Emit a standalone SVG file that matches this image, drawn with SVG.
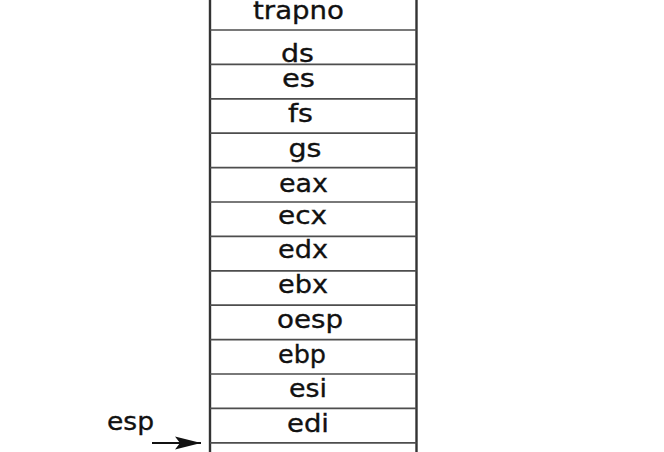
<svg xmlns="http://www.w3.org/2000/svg" width="664" height="452" viewBox="0 0 664 452">
  <style>
    .bg { fill: #ffffff; }
    .side { stroke: #333333; stroke-width: 2.4; fill: none; }
    .sep { stroke: #4d4d4d; stroke-width: 1.7; fill: none; }
    .lbl { font-family: "DejaVu Sans", "Liberation Sans", sans-serif; font-size: 25.6px; fill: #111111; stroke: #111111; stroke-width: 0.35; text-anchor: middle; }
    .conn { stroke: #111111; stroke-width: 2; fill: none; }
  </style>
  <defs>
    <marker id="arrowhead" markerWidth="28" markerHeight="14" refX="26" refY="7" orient="auto" markerUnits="userSpaceOnUse">
      <path d="M0,0.5 L26,7 L0,13.5 L5,7 Z" fill="#111111"/>
    </marker>
  </defs>
  <rect class="bg" x="0" y="0" width="664" height="452"/>

  <!-- stack frame outline -->
  <g id="frame">
    <line class="side" x1="210" y1="0" x2="210" y2="452"/>
    <line class="side" x1="416.5" y1="0" x2="416.5" y2="452"/>
    <line class="sep" x1="210" y1="30" x2="416.5" y2="30"/>
    <line class="sep" x1="210" y1="64.4" x2="416.5" y2="64.4"/>
    <line class="sep" x1="210" y1="98.8" x2="416.5" y2="98.8"/>
    <line class="sep" x1="210" y1="133.2" x2="416.5" y2="133.2"/>
    <line class="sep" x1="210" y1="167.6" x2="416.5" y2="167.6"/>
    <line class="sep" x1="210" y1="202" x2="416.5" y2="202"/>
    <line class="sep" x1="210" y1="236.4" x2="416.5" y2="236.4"/>
    <line class="sep" x1="210" y1="270.8" x2="416.5" y2="270.8"/>
    <line class="sep" x1="210" y1="305.2" x2="416.5" y2="305.2"/>
    <line class="sep" x1="210" y1="339.6" x2="416.5" y2="339.6"/>
    <line class="sep" x1="210" y1="374" x2="416.5" y2="374"/>
    <line class="sep" x1="210" y1="408.4" x2="416.5" y2="408.4"/>
    <line class="sep" x1="210" y1="442.8" x2="416.5" y2="442.8"/>
  </g>

  <!-- saved register slots -->
  <g id="slot-trapno"><text class="lbl" x="298.5" y="19" textLength="91" lengthAdjust="spacingAndGlyphs">trapno</text></g>
  <g id="slot-ds"><text class="lbl" x="297.5" y="62" textLength="33" lengthAdjust="spacingAndGlyphs">ds</text></g>
  <g id="slot-es"><text class="lbl" x="298.5" y="87" textLength="33" lengthAdjust="spacingAndGlyphs">es</text></g>
  <g id="slot-fs"><text class="lbl" x="300.5" y="122" textLength="25" lengthAdjust="spacingAndGlyphs">fs</text></g>
  <g id="slot-gs"><text class="lbl" x="305" y="157" textLength="33" lengthAdjust="spacingAndGlyphs">gs</text></g>
  <g id="slot-eax"><text class="lbl" x="303.5" y="191.5" textLength="49" lengthAdjust="spacingAndGlyphs">eax</text></g>
  <g id="slot-ecx"><text class="lbl" x="302.5" y="224" textLength="49" lengthAdjust="spacingAndGlyphs">ecx</text></g>
  <g id="slot-edx"><text class="lbl" x="303" y="258" textLength="50" lengthAdjust="spacingAndGlyphs">edx</text></g>
  <g id="slot-ebx"><text class="lbl" x="303" y="293" textLength="50" lengthAdjust="spacingAndGlyphs">ebx</text></g>
  <g id="slot-oesp"><text class="lbl" x="310" y="328" textLength="66" lengthAdjust="spacingAndGlyphs">oesp</text></g>
  <g id="slot-ebp"><text class="lbl" x="302" y="363" textLength="48" lengthAdjust="spacingAndGlyphs">ebp</text></g>
  <g id="slot-esi"><text class="lbl" x="308" y="397" textLength="38" lengthAdjust="spacingAndGlyphs">esi</text></g>
  <g id="slot-edi"><text class="lbl" x="308" y="432" textLength="42" lengthAdjust="spacingAndGlyphs">edi</text></g>

  <!-- stack pointer label -->
  <g id="esp-label"><text class="lbl" x="130.5" y="430" textLength="47" lengthAdjust="spacingAndGlyphs">esp</text></g>

  <g id="connectors">
    <line class="conn" x1="152" y1="443" x2="201" y2="443" marker-end="url(#arrowhead)"/>
  </g>
</svg>
